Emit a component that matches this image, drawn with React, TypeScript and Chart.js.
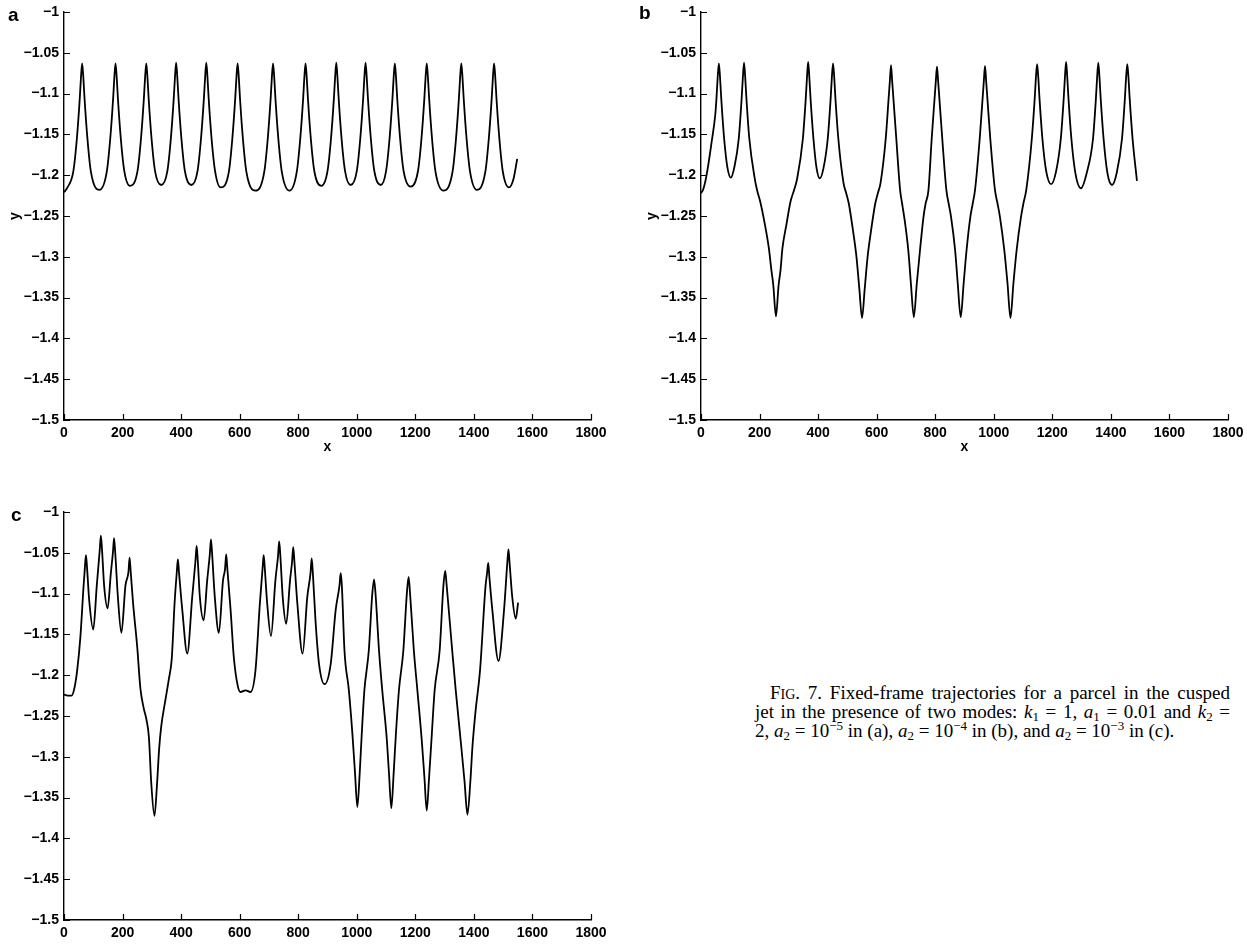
import React, { useEffect, useRef } from 'react';
import { Chart, registerables } from 'chart.js';

Chart.register(...registerables);

// Axis ticks shared by all three panels
const xTicks = [0, 200, 400, 600, 800, 1000, 1200, 1400, 1600, 1800];
const yTicks = [-1, -1.05, -1.1, -1.15, -1.2, -1.25, -1.3, -1.35, -1.4, -1.45, -1.5];

// (a) a2 = 1e-5 : [x, y] points
const trajA: [number, number][] = [
  [0, -1.221], [12, -1.215], [32, -1.195], [44, -1.155], [54, -1.105], [58, -1.08], [62, -1.063],
  [66, -1.08], [70, -1.105], [80, -1.155], [92, -1.196], [121, -1.218], [146, -1.196], [158, -1.155], [168, -1.105], [172, -1.08], [176, -1.063],
  [180, -1.08], [184, -1.105], [194, -1.155], [206, -1.195], [225, -1.213], [251, -1.195], [263, -1.155], [273, -1.105], [277, -1.08], [281, -1.063],
  [285, -1.08], [289, -1.105], [299, -1.155], [311, -1.195], [332, -1.212], [353, -1.195], [365, -1.155], [375, -1.105], [379, -1.08], [383, -1.062],
  [387, -1.08], [391, -1.105], [401, -1.155], [413, -1.195], [435, -1.212], [456, -1.195], [468, -1.155], [478, -1.105], [482, -1.08], [486, -1.062],
  [490, -1.08], [494, -1.105], [504, -1.155], [516, -1.195], [535, -1.215], [563, -1.196], [575, -1.155], [585, -1.105], [589, -1.08], [593, -1.063],
  [597, -1.08], [601, -1.105], [611, -1.155], [623, -1.196], [654, -1.219], [684, -1.196], [696, -1.155], [706, -1.105], [710, -1.08], [714, -1.063],
  [718, -1.08], [722, -1.105], [732, -1.155], [744, -1.196], [770, -1.219], [795, -1.196], [807, -1.155], [817, -1.105], [821, -1.08], [825, -1.063],
  [829, -1.08], [833, -1.105], [843, -1.155], [855, -1.195], [879, -1.213], [900, -1.195], [912, -1.155], [922, -1.105], [926, -1.08], [930, -1.062],
  [934, -1.08], [938, -1.105], [948, -1.155], [960, -1.195], [979, -1.212], [1000, -1.195], [1012, -1.155], [1022, -1.105], [1026, -1.08], [1030, -1.062],
  [1034, -1.08], [1038, -1.105], [1048, -1.155], [1060, -1.195], [1082, -1.212], [1100, -1.195], [1112, -1.155], [1122, -1.105], [1126, -1.08], [1130, -1.063],
  [1134, -1.08], [1138, -1.105], [1148, -1.155], [1160, -1.195], [1184, -1.214], [1209, -1.195], [1221, -1.155], [1231, -1.105], [1235, -1.08], [1239, -1.063],
  [1243, -1.08], [1247, -1.105], [1257, -1.155], [1269, -1.196], [1296, -1.219], [1327, -1.196], [1339, -1.155], [1349, -1.105], [1353, -1.08], [1357, -1.063],
  [1361, -1.08], [1365, -1.105], [1375, -1.155], [1387, -1.196], [1410, -1.218], [1439, -1.196], [1451, -1.155], [1461, -1.105], [1465, -1.08], [1469, -1.063],
  [1473, -1.08], [1477, -1.105], [1487, -1.155], [1499, -1.196], [1520, -1.215], [1535, -1.205], [1548, -1.18],
];

// (b) a2 = 1e-4
const trajB: [number, number][] = [
  [0, -1.222], [8, -1.217], [19, -1.2], [36, -1.16], [49, -1.125], [53, -1.105], [57, -1.08], [61, -1.063],
  [65, -1.08], [69, -1.105], [79, -1.155], [90, -1.19], [102, -1.203], [114, -1.19], [129, -1.155], [139, -1.105], [143, -1.08], [147, -1.062],
  [151, -1.08], [155, -1.105], [165, -1.155], [184, -1.205], [192, -1.219], [202, -1.232], [218, -1.26], [232, -1.29], [240, -1.315], [247, -1.335], [256, -1.373],
  [265, -1.335], [272, -1.315], [278, -1.29], [292, -1.26], [306, -1.232], [318, -1.218], [328, -1.205], [348, -1.155], [358, -1.105], [362, -1.08], [366, -1.061],
  [370, -1.08], [374, -1.105], [384, -1.155], [395, -1.192], [406, -1.204], [418, -1.192], [433, -1.155], [443, -1.105], [447, -1.08], [451, -1.063],
  [455, -1.08], [459, -1.105], [469, -1.155], [487, -1.21], [496, -1.222], [505, -1.235], [518, -1.265], [531, -1.3], [541, -1.34], [550, -1.375],
  [559, -1.34], [569, -1.3], [582, -1.265], [595, -1.235], [604, -1.222], [613, -1.21], [631, -1.155], [641, -1.105], [645, -1.085], [649, -1.065],
  [653, -1.085], [657, -1.105], [667, -1.155], [680, -1.218], [687, -1.235], [694, -1.251], [708, -1.292], [717, -1.333], [727, -1.374],
  [737, -1.333], [748, -1.292], [760, -1.251], [767, -1.235], [777, -1.218], [788, -1.155], [798, -1.105], [802, -1.085], [806, -1.067],
  [810, -1.085], [814, -1.105], [824, -1.155], [838, -1.218], [846, -1.235], [854, -1.251], [868, -1.292], [877, -1.333], [887, -1.374],
  [897, -1.333], [907, -1.292], [920, -1.251], [928, -1.235], [936, -1.218], [952, -1.155], [962, -1.105], [966, -1.085], [970, -1.066],
  [974, -1.085], [978, -1.105], [988, -1.155], [1004, -1.218], [1013, -1.235], [1021, -1.251], [1036, -1.292], [1047, -1.333], [1057, -1.375],
  [1067, -1.333], [1078, -1.292], [1093, -1.251], [1101, -1.235], [1111, -1.218], [1130, -1.155], [1140, -1.105], [1144, -1.08], [1148, -1.064],
  [1152, -1.08], [1156, -1.105], [1166, -1.155], [1179, -1.195], [1196, -1.211], [1213, -1.195], [1229, -1.155], [1239, -1.105], [1243, -1.08], [1247, -1.061],
  [1251, -1.08], [1255, -1.105], [1265, -1.155], [1279, -1.198], [1298, -1.216], [1317, -1.198], [1339, -1.155], [1349, -1.105], [1353, -1.08], [1357, -1.062],
  [1361, -1.08], [1365, -1.105], [1375, -1.155], [1388, -1.197], [1404, -1.212], [1420, -1.197], [1438, -1.155], [1448, -1.105], [1452, -1.08], [1456, -1.064],
  [1460, -1.08], [1464, -1.105], [1474, -1.155], [1489, -1.207],
];

// (c) a2 = 1e-3
const trajC: [number, number][] = [
  [0, -1.2236], [12, -1.225], [26, -1.225], [36, -1.215], [45, -1.194], [56, -1.153], [67, -1.09], [71, -1.07], [75, -1.053],
  [79, -1.07], [86, -1.108], [100, -1.144], [112, -1.09], [122, -1.047], [126, -1.029],
  [130, -1.047], [137, -1.09], [149, -1.118], [160, -1.075], [167, -1.05], [171, -1.032],
  [175, -1.05], [184, -1.104], [196, -1.148], [210, -1.09], [220, -1.074], [224, -1.056],
  [228, -1.074], [236, -1.112], [250, -1.165], [261, -1.2165], [272, -1.24], [282, -1.255], [290, -1.276], [298, -1.332], [309, -1.3725],
  [318, -1.332], [325, -1.29], [332, -1.263], [347, -1.229], [358, -1.205], [368, -1.18], [378, -1.11], [385, -1.075], [389, -1.058],
  [393, -1.075], [404, -1.12], [421, -1.1735], [438, -1.104], [449, -1.06], [453, -1.0416],
  [457, -1.06], [464, -1.104], [477, -1.1327], [489, -1.084], [498, -1.052], [502, -1.0335],
  [506, -1.052], [515, -1.104], [529, -1.148], [543, -1.084], [550, -1.07], [554, -1.052],
  [558, -1.07], [569, -1.12], [580, -1.178], [594, -1.214], [603, -1.2206], [620, -1.2185], [637, -1.2206], [654, -1.194], [669, -1.112], [678, -1.07], [682, -1.053],
  [686, -1.07], [694, -1.112], [707, -1.152], [722, -1.084], [731, -1.054], [735, -1.036],
  [739, -1.054], [747, -1.104], [759, -1.137], [772, -1.084], [779, -1.061], [783, -1.043],
  [787, -1.061], [797, -1.112], [815, -1.1735], [831, -1.104], [842, -1.075], [846, -1.057],
  [850, -1.075], [859, -1.133], [871, -1.186], [890, -1.211], [911, -1.186], [928, -1.12], [941, -1.09], [945, -1.075],
  [949, -1.09], [958, -1.17], [973, -1.2185], [985, -1.2716], [994, -1.32], [1002, -1.3615],
  [1010, -1.32], [1017, -1.272], [1026, -1.2185], [1041, -1.17], [1053, -1.1], [1059, -1.0825],
  [1064, -1.1], [1076, -1.17], [1087, -1.2185], [1102, -1.276], [1110, -1.32], [1118, -1.363],
  [1126, -1.32], [1133, -1.276], [1144, -1.2185], [1159, -1.17], [1171, -1.1], [1177, -1.0796],
  [1182, -1.1], [1195, -1.17], [1207, -1.2185], [1222, -1.28], [1231, -1.325], [1239, -1.366],
  [1247, -1.325], [1255, -1.28], [1266, -1.2185], [1283, -1.17], [1296, -1.09], [1302, -1.0723],
  [1307, -1.09], [1326, -1.17], [1338, -1.2185], [1357, -1.288], [1368, -1.33], [1378, -1.371],
  [1388, -1.33], [1395, -1.288], [1406, -1.243], [1421, -1.194], [1440, -1.09], [1445, -1.075], [1449, -1.0625],
  [1453, -1.08], [1463, -1.12], [1484, -1.1826], [1503, -1.12], [1514, -1.063], [1518, -1.0457],
  [1522, -1.063], [1531, -1.104], [1543, -1.1307], [1551, -1.111],
];

const FONT = "'Liberation Sans', Arial, Helvetica, sans-serif";

const fmt = (v: number) => {
  const r = Math.round(v * 100) / 100;
  return r < 0 ? '\u2212' + String(-r) : String(r);
};

const inwardTicks = {
  id: 'inwardTicks',
  afterDraw(chart: any) {
    const { ctx, chartArea, scales } = chart;
    ctx.save();
    ctx.strokeStyle = '#000';
    ctx.lineWidth = 1.2;
    ctx.beginPath();
    for (const v of xTicks) {
      const px = Math.round(scales.x.getPixelForValue(v)) + 0.5;
      ctx.moveTo(px, chartArea.bottom);
      ctx.lineTo(px, chartArea.bottom - 6);
    }
    for (const v of yTicks) {
      const py = Math.round(scales.y.getPixelForValue(v)) + 0.5;
      ctx.moveTo(chartArea.left, py);
      ctx.lineTo(chartArea.left + 6, py);
    }
    ctx.stroke();
    ctx.restore();
  },
};

type PanelProps = {
  data: [number, number][];
  left: number;
  top: number;
  width: number;
  height: number;
  padBottom: number;
  xBox: number;
  showX: boolean;
  showY: boolean;
};

function Panel({ data, left, top, width, height, padBottom, xBox, showX, showY }: PanelProps) {
  const ref = useRef<HTMLCanvasElement | null>(null);
  useEffect(() => {
    if (!ref.current) return;
    const chart = new Chart(ref.current, {
      type: 'line',
      data: {
        datasets: [
          {
            data: data.map(([x, y]) => ({ x, y })),
            borderColor: '#000',
            borderWidth: 1.8,
            pointRadius: 0,
            fill: false,
            cubicInterpolationMode: 'monotone',
          },
        ],
      },
      options: {
        responsive: false,
        animation: false,
        devicePixelRatio: 1,
        layout: { padding: { left: 0, top: 12, right: 29, bottom: padBottom } },
        plugins: { legend: { display: false }, tooltip: { enabled: false } },
        scales: {
          x: {
            type: 'linear',
            min: 0,
            max: 1800,
            afterBuildTicks: (s: any) => {
              s.ticks = xTicks.map((v) => ({ value: v }));
            },
            afterFit: (s: any) => {
              s.height = xBox;
              s.paddingLeft = 0;
              s.paddingRight = 0;
            },
            grid: { display: false, drawTicks: false },
            border: { display: true, color: '#000', width: 1.4 },
            ticks: {
              color: '#000',
              padding: 5,
              maxRotation: 0,
              autoSkip: false,
              font: { family: FONT, size: 14, weight: 'bold' },
              callback: (v: any) => fmt(Number(v)),
            },
            title: {
              display: showX,
              text: 'x',
              color: '#000',
              font: { family: FONT, size: 14, weight: 'bold' },
              padding: { top: 0, bottom: 4 },
            },
          },
          y: {
            type: 'linear',
            min: -1.5,
            max: -1,
            afterBuildTicks: (s: any) => {
              s.ticks = yTicks.map((v) => ({ value: v }));
            },
            afterFit: (s: any) => {
              s.width = 64;
              s.paddingTop = 0;
              s.paddingBottom = 0;
            },
            grid: { display: false, drawTicks: false },
            border: { display: true, color: '#000', width: 1.4 },
            ticks: {
              color: '#000',
              padding: 5,
              autoSkip: false,
              font: { family: FONT, size: 14, weight: 'bold' },
              callback: (v: any) => fmt(Number(v)),
            },
            title: {
              display: showY,
              text: 'y',
              color: '#000',
              font: { family: FONT, size: 14, weight: 'bold' },
              padding: { top: 7, bottom: 0 },
            },
          },
        },
      },
      plugins: [inwardTicks],
    } as any);
    return () => chart.destroy();
  }, [data, padBottom, xBox, showX, showY]);
  return (
    <canvas
      ref={ref}
      width={width}
      height={height}
      style={{ position: 'absolute', left, top, width, height }}
    />
  );
}

const letterStyle: React.CSSProperties = {
  position: 'absolute',
  fontFamily: FONT,
  fontWeight: 'bold',
  fontSize: 19,
  lineHeight: '20px',
  color: '#000',
};

const capLine: React.CSSProperties = {
  textAlign: 'justify',
  textAlignLast: 'justify',
  whiteSpace: 'nowrap',
  height: 19,
};

const subSt: React.CSSProperties = { fontSize: 13, lineHeight: 0, verticalAlign: '-0.25em' };
const supSt: React.CSSProperties = { fontSize: 13, lineHeight: 0, verticalAlign: '0.55em' };

export default function App() {
  return (
    <div
      style={{
        position: 'absolute',
        left: 0,
        top: 0,
        width: 1247,
        height: 944,
        background: '#fff',
        overflow: 'hidden',
      }}
    >
      <Panel data={trajA} left={0} top={0} width={620} height={470} padBottom={10} xBox={40} showX showY />
      <Panel data={trajB} left={637} top={0} width={620} height={470} padBottom={10} xBox={40} showX showY />
      <Panel data={trajC} left={0} top={500} width={620} height={444} padBottom={0} xBox={24} showX={false} showY={false} />
      <div style={{ ...letterStyle, left: 8, top: 5 }}>a</div>
      <div style={{ ...letterStyle, left: 639, top: 3 }}>b</div>
      <div style={{ ...letterStyle, left: 11, top: 505 }}>c</div>
      <div
        style={{
          position: 'absolute',
          left: 755,
          top: 683,
          width: 475,
          fontFamily: "'Liberation Serif', 'Times New Roman', serif",
          fontSize: 19,
          lineHeight: '19px',
          color: '#000',
        }}
      >
        <div style={{ ...capLine, textIndent: 15 }}>
          F<span style={{ fontSize: 14 }}>IG</span>. 7. Fixed-frame trajectories for a parcel in the cusped
        </div>
        <div style={capLine}>
          jet in the presence of two modes: <i>k</i><span style={subSt}>1</span> = 1, <i>a</i>
          <span style={subSt}>1</span> = 0.01 and <i>k</i><span style={subSt}>2</span> =
        </div>
        <div style={{ whiteSpace: 'nowrap', height: 19 }}>
          2, <i>a</i><span style={subSt}>2</span> = 10<span style={supSt}>{'\u2212'}5</span> in (a), <i>a</i>
          <span style={subSt}>2</span> = 10<span style={supSt}>{'\u2212'}4</span> in (b), and <i>a</i>
          <span style={subSt}>2</span> = 10<span style={supSt}>{'\u2212'}3</span> in (c).
        </div>
      </div>
    </div>
  );
}
